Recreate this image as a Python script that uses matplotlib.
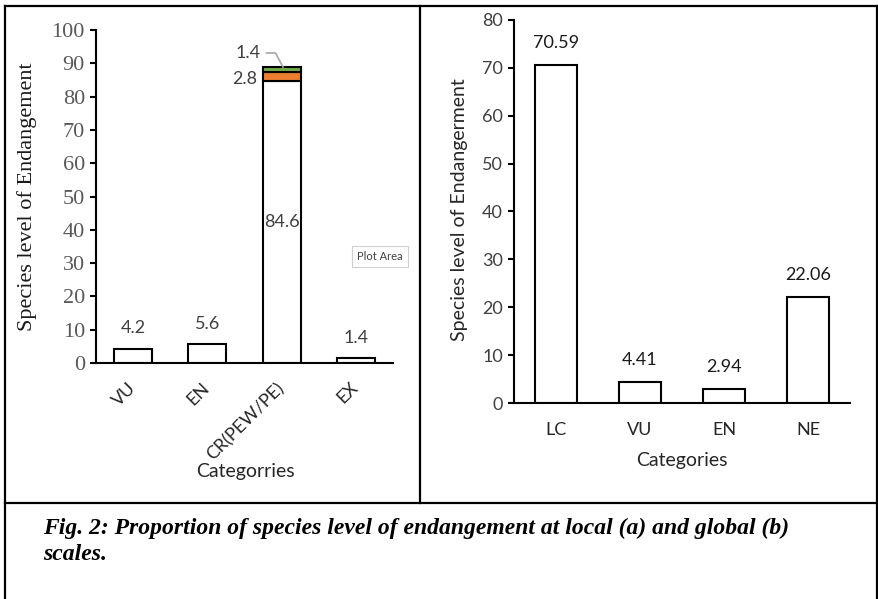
import matplotlib.pyplot as plt
from matplotlib.lines import Line2D

# данные (a) локальный масштаб
local_cats = ["VU", "EN", "CR(PEW/PE)", "EX"]
local_vals = [4.2, 5.6, 84.6, 1.4]
cr_orange = 2.8
cr_green = 1.4

# данные (b) глобальный масштаб
global_cats = ["LC", "VU", "EN", "NE"]
global_vals = [70.59, 4.41, 2.94, 22.06]

sans = ["Lato", "DejaVu Sans"]
serif = ["Liberation Serif", "DejaVu Serif"]

fig = plt.figure(figsize=(8.79, 5.99), dpi=100)
W, H = 879, 599

def fx(px):
    return px / W

def fy(py):
    return 1 - py / H

# ---- левый график (a) ----
ax1 = fig.add_axes([fx(96), fy(363), 297 / W, 333 / H])
x1 = range(len(local_cats))
ax1.bar(x1, local_vals, width=0.51, color="white", edgecolor="black", linewidth=1.5)
ax1.bar([2], [cr_orange], bottom=[local_vals[2]], width=0.51,
        color="#ED7D31", edgecolor="black", linewidth=1.5)
ax1.bar([2], [cr_green], bottom=[local_vals[2] + cr_orange], width=0.51,
        color="#70AD47", edgecolor="black", linewidth=1.5)
ax1.set_xlim(-0.5, 3.5)
ax1.set_ylim(0, 100)
ax1.set_yticks(range(0, 101, 10))
ax1.set_xticks(list(x1))
ax1.set_xticklabels(local_cats, rotation=45, ha="right", va="center",
                    rotation_mode="anchor", family=sans,
                    fontsize=13, color="#262626")
ax1.tick_params(axis="x", length=0, pad=16)
ax1.tick_params(axis="y", length=4.5, width=1.5, labelsize=16, labelcolor="#595959")
for lab in ax1.get_yticklabels():
    lab.set_family(serif)
for s in ["top", "right"]:
    ax1.spines[s].set_visible(False)
for s in ["left", "bottom"]:
    ax1.spines[s].set_linewidth(1.5)

# подписи значений
for i, v in enumerate(local_vals):
    if i == 2:
        continue
    ax1.annotate(f"{v}", (i, v), xytext=(0, 15), textcoords="offset points",
                 ha="center", va="center", fontsize=13, color="#404040", family=sans)
ax1.text(2, local_vals[2] / 2, f"{local_vals[2]}", ha="center", va="center",
         fontsize=13, color="#404040", family=sans)
ax1.annotate(f"{cr_orange}", (2 - 0.255, local_vals[2] + cr_orange / 2 - 0.6),
             xytext=(-4, 0), textcoords="offset points", ha="right", va="center",
             fontsize=13, color="#404040", family=sans)
top_cr = local_vals[2] + cr_orange + cr_green
ax1.annotate(f"{cr_green}", xy=(2.02, top_cr), xytext=(1.55, top_cr + 4.3),
             ha="center", va="center", fontsize=13, color="#404040", family=sans,
             arrowprops=dict(arrowstyle="-", color="#a6a6a6", lw=1.2,
                             connectionstyle="angle,angleA=0,angleB=118,rad=0",
                             shrinkA=2, shrinkB=0))

ax1.set_xlabel("Categorries", family=sans, fontsize=14, color="#262626", va="center")
ax1.xaxis.set_label_coords(0.502, -0.327)
ax1.set_ylabel("Species level of Endangement", family=serif, fontsize=16,
               color="#1a1a1a", va="center")
ax1.yaxis.set_label_coords(-0.232, 0.5)

# всплывающая подсказка Excel
fig.text(fx(380), fy(256), "Plot Area", ha="center", va="center", fontsize=8,
         family=sans, color="#404040",
         bbox=dict(boxstyle="square,pad=0.45", fc="white", ec="#d0d0d0", lw=0.8))

# ---- правый график (b) ----
ax2 = fig.add_axes([fx(514), fy(403), 336 / W, 383 / H])
x2 = range(len(global_cats))
ax2.bar(x2, global_vals, width=0.5, color="white", edgecolor="black", linewidth=1.5)
ax2.set_xlim(-0.5, 3.5)
ax2.set_ylim(0, 80)
ax2.set_yticks(range(0, 81, 10))
ax2.set_xticks(list(x2))
ax2.set_xticklabels(global_cats, family=sans, fontsize=13, color="#262626")
ax2.tick_params(axis="x", length=0, pad=14)
ax2.tick_params(axis="y", length=4.5, width=1.5, labelsize=13, labelcolor="#404040")
for lab in ax2.get_yticklabels():
    lab.set_family(sans)
for s in ["top", "right"]:
    ax2.spines[s].set_visible(False)
for s in ["left", "bottom"]:
    ax2.spines[s].set_linewidth(1.5)
for i, v in enumerate(global_vals):
    ax2.annotate(f"{v:.2f}", (i, v), xytext=(0, 16), textcoords="offset points",
                 ha="center", va="center", fontsize=13, color="#1a1a1a", family=sans)
ax2.set_xlabel("Categories", family=sans, fontsize=14, color="#262626", va="center")
ax2.xaxis.set_label_coords(0.5, -0.149)
ax2.set_ylabel("Species level of Endangerment", family=sans, fontsize=14,
               color="#262626", va="center")
ax2.yaxis.set_label_coords(-0.161, 0.504)

# ---- рамка таблицы ----
lw = 1.6
fig.add_artist(Line2D([fx(5), fx(877)], [fy(6), fy(6)], color="black", lw=lw))
fig.add_artist(Line2D([fx(5), fx(5)], [fy(6), fy(599)], color="black", lw=lw))
fig.add_artist(Line2D([fx(877), fx(877)], [fy(6), fy(599)], color="black", lw=lw))
fig.add_artist(Line2D([fx(420), fx(420)], [fy(6), fy(503)], color="black", lw=lw))
fig.add_artist(Line2D([fx(5), fx(877)], [fy(503), fy(503)], color="black", lw=lw))

# подпись рисунка
cap_font = dict(family=serif, fontsize=17, fontweight="bold", fontstyle="italic",
                color="black", ha="left", va="center")
fig.text(fx(43), fy(528),
         "Fig. 2: Proportion of species level of endangement at local (a) and global (b)",
         **cap_font)
fig.text(fx(43), fy(555), "scales.", **cap_font)

fig.savefig("out.png", dpi=100)
